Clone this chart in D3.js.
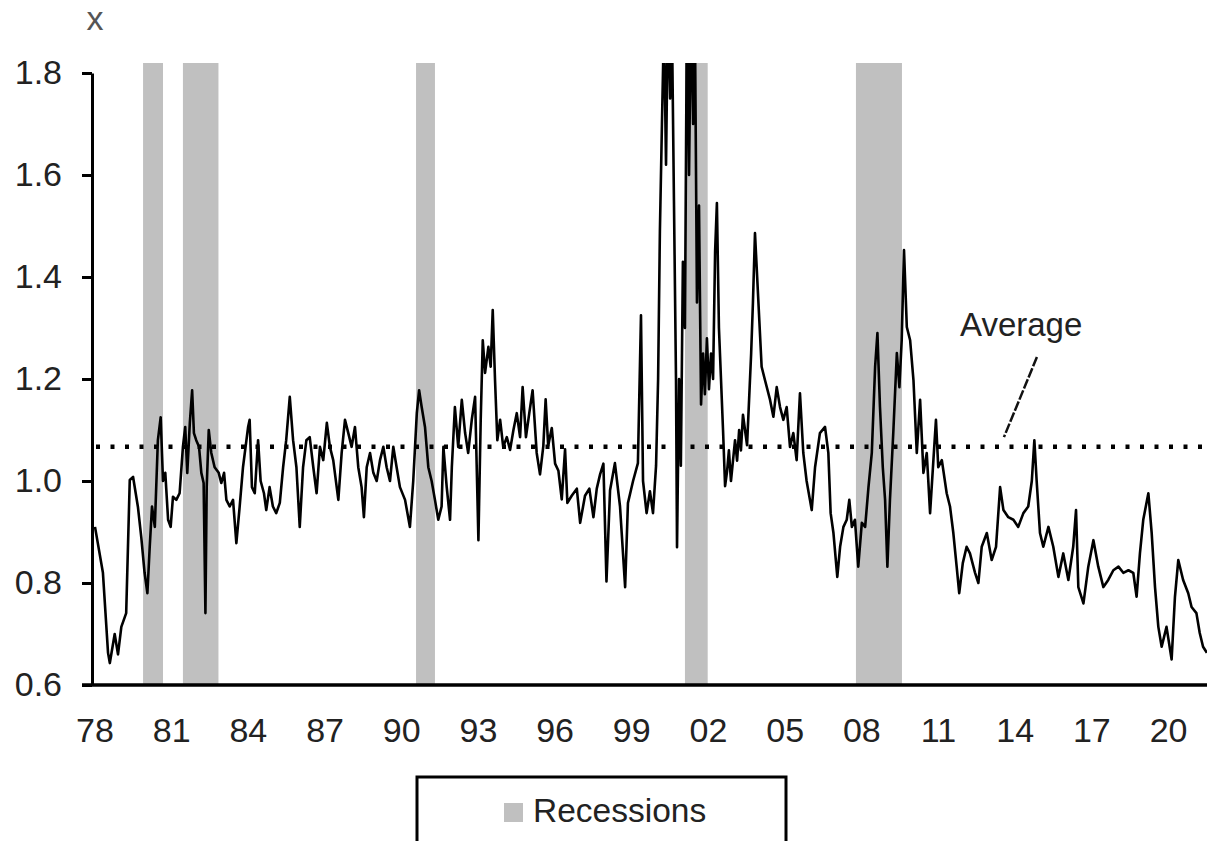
<!DOCTYPE html>
<html><head><meta charset="utf-8">
<script src="https://cdn.jsdelivr.net/npm/d3@7"></script>
<style>
body{margin:0;background:#fff}
svg{display:block}
text{font-family:"Liberation Sans",Arial,sans-serif}
</style>
</head><body>
<svg id="c" width="1207" height="841"></svg>
<script>
// ---------- data ----------
const yTicks = [0.6, 0.8, 1.0, 1.2, 1.4, 1.6, 1.8];
const xTickYears = [1978, 1981, 1984, 1987, 1990, 1993, 1996, 1999, 2002, 2005, 2008, 2011, 2014, 2017, 2020];
const xTickLabels = ["78","81","84","87","90","93","96","99","02","05","08","11","14","17","20"];
const recessionStart = [1979.88, 1981.44, 1990.56, 2001.08, 2007.77];
const recessionEnd   = [1980.66, 1982.83, 1991.30, 2001.97, 2009.57];
const averageValue = 1.067;
const unitLabel = "x";
const averageLabel = "Average";
const legendLabel = "Recessions";
// [decimal year, ratio]
const ratioSeries = [
[1978.00,0.91],[1978.31,0.82],[1978.51,0.663],[1978.58,0.643],[1978.77,0.70],[1978.90,0.66],[1979.03,0.714],[1979.22,0.741],[1979.36,1.002],[1979.49,1.008],[1979.68,0.949],[1979.81,0.89],[1979.94,0.82],[1980.05,0.78],[1980.14,0.87],[1980.23,0.95],[1980.34,0.91],[1980.46,1.08],[1980.57,1.125],[1980.66,1.00],[1980.75,1.016],[1980.86,0.924],[1980.96,0.91],[1981.05,0.969],[1981.18,0.963],[1981.31,0.976],[1981.44,1.067],[1981.53,1.106],[1981.61,1.016],[1981.71,1.114],[1981.80,1.178],[1981.87,1.094],[1981.96,1.08],[1982.07,1.067],[1982.16,1.016],[1982.25,0.996],[1982.32,0.741],[1982.37,0.988],[1982.45,1.10],[1982.55,1.055],[1982.68,1.027],[1982.84,1.016],[1982.94,0.996],[1983.05,1.016],[1983.14,0.963],[1983.27,0.95],[1983.40,0.963],[1983.53,0.878],[1983.66,0.95],[1983.79,1.027],[1983.99,1.106],[1984.05,1.12],[1984.14,0.988],[1984.25,0.976],[1984.38,1.08],[1984.48,1.00],[1984.61,0.976],[1984.70,0.943],[1984.83,0.988],[1984.96,0.95],[1985.09,0.937],[1985.23,0.957],[1985.36,1.027],[1985.48,1.08],[1985.62,1.165],[1985.75,1.08],[1985.88,1.027],[1986.01,0.91],[1986.14,1.027],[1986.27,1.08],[1986.40,1.086],
[1986.54,1.027],[1986.67,0.976],[1986.80,1.067],[1986.93,1.041],[1987.07,1.114],[1987.19,1.067],[1987.32,1.041],[1987.52,0.963],[1987.65,1.055],[1987.78,1.12],[1987.91,1.094],[1988.04,1.067],[1988.17,1.106],[1988.30,1.027],[1988.43,0.988],[1988.52,0.929],[1988.63,1.027],[1988.76,1.055],[1988.89,1.016],[1989.02,1.00],[1989.15,1.041],[1989.28,1.067],[1989.41,1.027],[1989.54,1.00],[1989.67,1.067],[1989.80,1.027],[1989.93,0.988],[1990.13,0.963],[1990.32,0.91],[1990.45,1.00],[1990.59,1.133],[1990.68,1.178],[1990.78,1.145],[1990.91,1.106],[1991.04,1.027],[1991.17,1.00],[1991.30,0.963],[1991.43,0.924],[1991.56,0.95],[1991.63,1.067],[1991.76,0.988],[1991.89,0.924],[1991.96,1.027],[1992.08,1.145],[1992.21,1.067],[1992.35,1.159],[1992.48,1.094],[1992.60,1.055],[1992.74,1.12],[1992.87,1.165],[1993.00,0.884],[1993.09,1.12],[1993.17,1.276],[1993.26,1.212],[1993.39,1.263],[1993.48,1.224],[1993.56,1.335],[1993.65,1.198],[1993.74,1.08],[1993.85,1.12],[1993.97,1.067],[1994.11,1.086],[1994.24,1.061],[1994.37,1.10],[1994.50,1.133],[1994.63,1.086],[1994.73,1.184],[1994.86,1.086],[1994.99,1.133],[1995.12,1.178],
[1995.28,1.055],[1995.41,1.013],[1995.54,1.069],[1995.63,1.16],[1995.73,1.069],[1995.87,1.104],[1996.00,1.034],[1996.13,1.02],[1996.26,0.964],[1996.39,1.062],[1996.48,0.957],[1996.65,0.971],[1996.85,0.985],[1996.98,0.918],[1997.17,0.971],[1997.34,0.985],[1997.50,0.929],[1997.63,0.985],[1997.76,1.013],[1997.89,1.034],[1998.01,0.803],[1998.15,0.982],[1998.34,1.035],[1998.54,0.95],[1998.74,0.792],[1998.85,0.957],[1999.05,1.0],[1999.24,1.035],[1999.36,1.325],[1999.44,1.00],[1999.58,0.937],[1999.71,0.98],[1999.83,0.937],[1999.95,1.03],[2000.03,1.20],[2000.10,1.49],[2000.18,1.70],[2000.26,1.90],[2000.34,1.62],[2000.42,1.95],[2000.50,1.75],[2000.57,1.90],[2000.65,1.55],[2000.73,1.20],[2000.77,0.87],[2000.85,1.20],[2000.92,1.03],[2001.00,1.43],[2001.08,1.30],[2001.16,1.95],[2001.24,1.60],[2001.32,1.95],[2001.40,1.70],[2001.47,1.90],[2001.55,1.35],[2001.63,1.54],[2001.71,1.15],[2001.79,1.25],[2001.86,1.17],[2001.94,1.28],[2002.02,1.18],[2002.10,1.25],[2002.18,1.20],[2002.26,1.45],[2002.33,1.545],[2002.41,1.30],[2002.49,1.20],[2002.57,1.10],[2002.65,0.99],[2002.73,1.02],[2002.80,1.06],[2002.88,1.00],[2002.96,1.04],[2003.04,1.08],[2003.12,1.04],[2003.20,1.10],[2003.27,1.06],[2003.35,1.13],[2003.43,1.10],[2003.51,1.07],[2003.59,1.16],[2003.67,1.25],[2003.74,1.35],[2003.82,1.486],
[2003.95,1.355],[2004.08,1.224],[2004.21,1.198],[2004.41,1.159],[2004.54,1.126],[2004.67,1.184],[2004.80,1.145],[2004.93,1.12],[2005.06,1.145],[2005.19,1.067],[2005.32,1.094],[2005.45,1.041],[2005.58,1.172],[2005.71,1.055],[2005.84,1.00],[2005.97,0.963],[2006.04,0.943],[2006.17,1.027],[2006.36,1.094],[2006.56,1.106],[2006.69,1.055],[2006.78,0.937],[2006.89,0.898],[2007.04,0.812],[2007.15,0.871],[2007.28,0.91],[2007.41,0.924],[2007.51,0.963],[2007.61,0.91],[2007.73,0.924],[2007.86,0.832],[2008.00,0.918],[2008.13,0.91],[2008.26,0.988],[2008.39,1.055],[2008.52,1.224],[2008.61,1.29],[2008.71,1.145],[2008.82,1.027],[2008.91,0.963],[2009.00,0.832],[2009.10,0.963],[2009.23,1.094],[2009.37,1.251],[2009.47,1.184],[2009.56,1.276],[2009.65,1.453],[2009.76,1.302],[2009.89,1.276],[2010.02,1.198],[2010.15,1.055],[2010.28,1.159],[2010.41,1.016],[2010.54,1.055],[2010.67,0.937],[2010.80,1.041],[2010.90,1.12],[2010.99,1.027],[2011.13,1.041],[2011.32,0.976],[2011.45,0.95],[2011.58,0.898],[2011.71,0.832],[2011.81,0.78],[2011.95,0.839],[2012.10,0.871],[2012.23,0.858],
[2012.43,0.82],[2012.56,0.80],[2012.69,0.871],[2012.89,0.898],[2013.08,0.845],[2013.25,0.871],[2013.41,0.988],[2013.54,0.943],[2013.73,0.929],[2013.93,0.924],[2014.12,0.91],[2014.32,0.937],[2014.51,0.95],[2014.65,1.00],[2014.75,1.08],[2014.84,1.00],[2014.97,0.898],[2015.10,0.871],[2015.30,0.91],[2015.49,0.871],[2015.69,0.812],[2015.88,0.858],[2016.08,0.806],[2016.27,0.871],[2016.38,0.943],[2016.47,0.792],[2016.67,0.76],[2016.86,0.832],[2017.06,0.884],[2017.25,0.832],[2017.45,0.792],[2017.64,0.806],[2017.84,0.825],[2018.04,0.832],[2018.23,0.82],[2018.43,0.825],[2018.62,0.82],[2018.75,0.773],[2018.88,0.858],[2019.01,0.924],[2019.21,0.976],[2019.34,0.898],[2019.47,0.792],[2019.60,0.714],[2019.73,0.675],[2019.92,0.714],[2020.12,0.65],[2020.25,0.773],[2020.38,0.845],[2020.57,0.806],[2020.77,0.78],[2020.90,0.753],[2021.09,0.741],[2021.22,0.702],[2021.35,0.675],[2021.50,0.663]
];
// annotation anchors (data coordinates)
const averageLabelAt = [2011.84, 1.284];
const leaderFrom = [2014.85, 1.243];
const leaderTo = [2013.56, 1.086];

// ---------- chart ----------
const W = 1207, H = 841;
const plotLeft = 92, plotRight = 1207, plotTop = 63, plotBottom = 685;
const svg = d3.select("#c");
svg.append("rect").attr("width", W).attr("height", H).attr("fill", "#fff");

const x = d3.scaleLinear().domain([1978, 2021.5]).range([95, 1206.9]);
const y = d3.scaleLinear().domain([0.6, 1.8]).range([685, 73]);

svg.append("defs").append("clipPath").attr("id", "plotClip")
  .append("rect").attr("x", plotLeft).attr("y", plotTop)
  .attr("width", plotRight - plotLeft).attr("height", plotBottom - plotTop);

// recession bars
svg.append("g").selectAll("rect")
  .data(recessionStart.map((s, i) => [s, recessionEnd[i]]))
  .join("rect")
  .attr("x", d => x(d[0]))
  .attr("width", d => x(d[1]) - x(d[0]))
  .attr("y", plotTop)
  .attr("height", plotBottom - plotTop)
  .attr("fill", "#c0c0c0");

// average dotted line
svg.append("line")
  .attr("x1", plotLeft + 4).attr("x2", plotRight)
  .attr("y1", y(averageValue)).attr("y2", y(averageValue))
  .attr("stroke", "#000").attr("stroke-width", 4.5)
  .attr("stroke-dasharray", "4,10.5");

// series line
svg.append("path")
  .datum(ratioSeries)
  .attr("clip-path", "url(#plotClip)")
  .attr("fill", "none")
  .attr("stroke", "#000")
  .attr("stroke-width", 2.6)
  .attr("stroke-linejoin", "round")
  .attr("d", d3.line().x(d => x(d[0])).y(d => y(d[1])));

// y axis
const yAxis = svg.append("g").attr("transform", `translate(${plotLeft},0)`)
  .call(d3.axisLeft(y).tickValues(yTicks).tickFormat(d3.format(".1f"))
    .tickSize(10).tickSizeOuter(0).tickPadding(20));
yAxis.select(".domain").attr("stroke", "#000").attr("stroke-width", 3);
yAxis.selectAll(".tick line").attr("stroke", "#000").attr("stroke-width", 3);
yAxis.selectAll(".tick text").attr("font-size", 34).attr("fill", "#222")
  .attr("font-family", "'Liberation Sans', Arial, sans-serif");

// x axis
svg.append("line").attr("x1", 82).attr("x2", plotRight)
  .attr("y1", plotBottom).attr("y2", plotBottom)
  .attr("stroke", "#000").attr("stroke-width", 3.5);
svg.append("g").selectAll("text")
  .data(xTickYears)
  .join("text")
  .attr("x", d => x(d))
  .attr("y", 742)
  .attr("text-anchor", "middle")
  .attr("font-size", 34)
  .attr("fill", "#222")
  .text((d, i) => xTickLabels[i]);

// unit label
svg.append("text").attr("x", 95).attr("y", 30)
  .attr("text-anchor", "middle").attr("font-size", 34).attr("fill", "#555")
  .text(unitLabel);

// average annotation
svg.append("text").attr("x", x(averageLabelAt[0])).attr("y", y(averageLabelAt[1]))
  .attr("font-size", 33).attr("fill", "#222").text(averageLabel);
svg.append("line")
  .attr("x1", x(leaderFrom[0])).attr("y1", y(leaderFrom[1]))
  .attr("x2", x(leaderTo[0])).attr("y2", y(leaderTo[1]))
  .attr("stroke", "#111").attr("stroke-width", 2.5).attr("stroke-dasharray", "10,2");

// legend
svg.append("rect").attr("x", 417).attr("y", 777).attr("width", 369).attr("height", 100)
  .attr("fill", "#fff").attr("stroke", "#000").attr("stroke-width", 3);
svg.append("rect").attr("x", 504).attr("y", 803).attr("width", 19).attr("height", 19)
  .attr("fill", "#c0c0c0");
svg.append("text").attr("x", 533).attr("y", 822).attr("font-size", 33.5)
  .attr("fill", "#222").text(legendLabel);
</script>
</body></html>
